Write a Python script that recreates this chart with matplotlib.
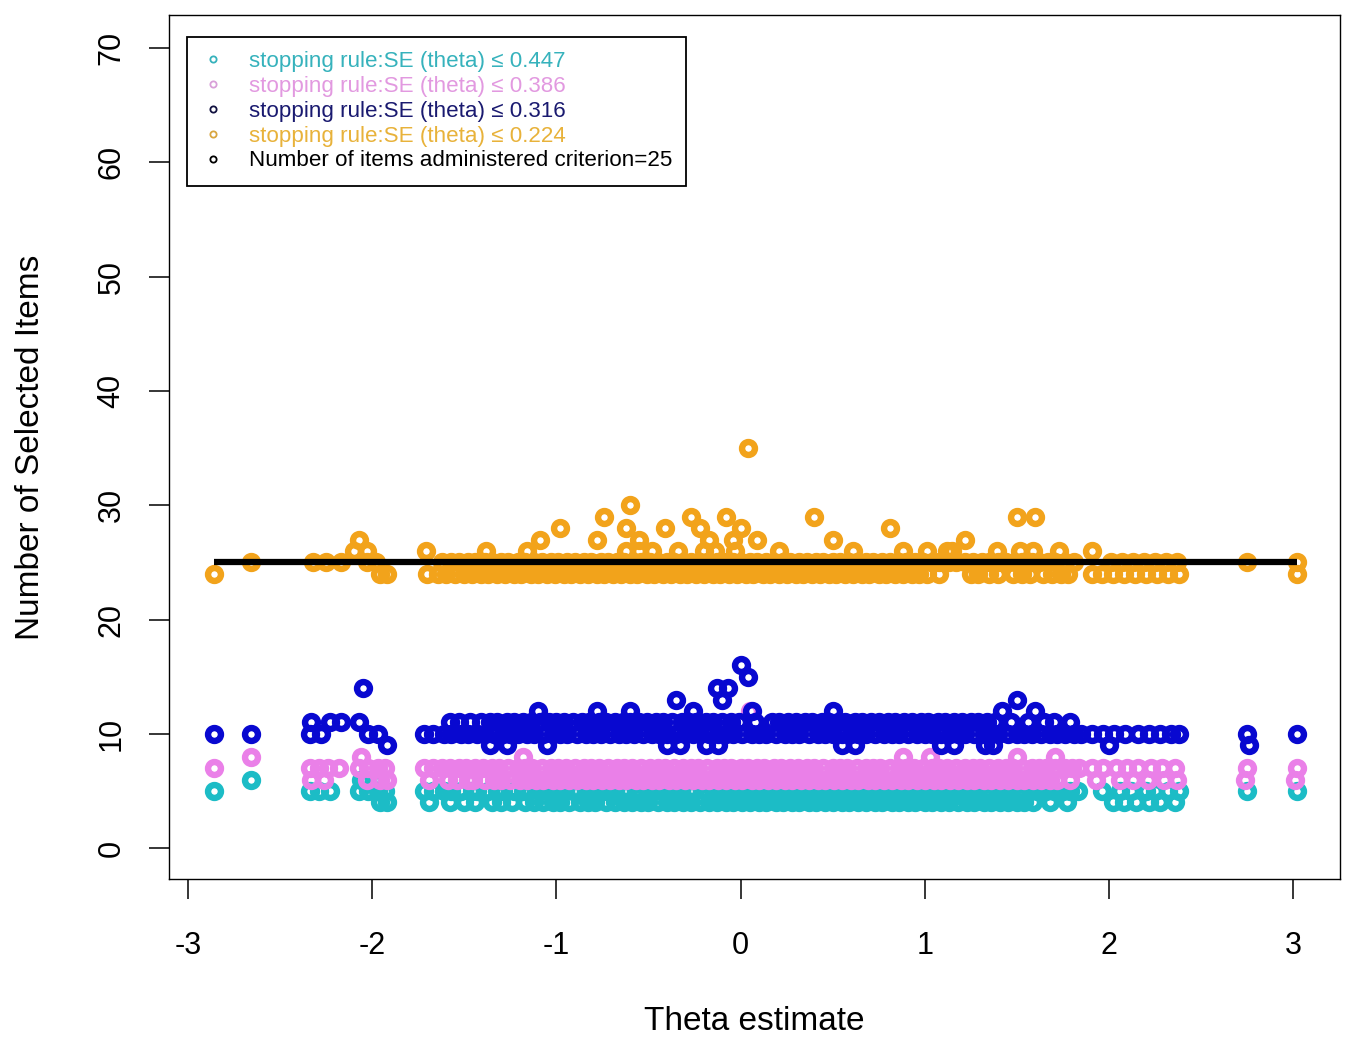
import matplotlib
matplotlib.use("Agg")
import matplotlib.pyplot as plt
from matplotlib.lines import Line2D

plt.rcParams['font.family'] = ['Liberation Sans', 'DejaVu Sans']
plt.rcParams['axes.unicode_minus'] = False

# theta estimates, grouped by the number of selected items
# SE(theta) <= 0.447
teal_x4 = [-1.96, -1.92, -1.69, -1.58, -1.50, -1.44, -1.35, -1.30, -1.24, -1.17, -1.12, -1.07,
           -1.02, -0.98, -0.93, -0.87, -0.83, -0.79, -0.73, -0.68, -0.63, -0.59, -0.54, -0.50,
           -0.45, -0.40, -0.36, -0.31, -0.27, -0.22, -0.17, -0.13, -0.08, -0.04, 0.01, 0.05,
           0.10, 0.14, 0.19, 0.23, 0.28, 0.32, 0.37, 0.41, 0.46, 0.50, 0.55, 0.59, 0.64, 0.68,
           0.73, 0.77, 0.82, 0.86, 0.91, 0.95, 1.00, 1.04, 1.09, 1.13, 1.18, 1.23, 1.27, 1.32,
           1.36, 1.41, 1.45, 1.50, 1.54, 1.59, 1.68, 1.77, 2.02, 2.08, 2.15, 2.22, 2.28, 2.36]
teal_x5 = [-2.86, -2.34, -2.29, -2.23, -2.07, -2.02, -1.97, -1.93, -1.72, -1.67,
           -1.61, -1.57, -1.52, -1.46, -1.43, -1.37, -1.32, -1.29, -1.23, -1.18, -1.15, -1.09,
           -1.05, -1.01, -0.96, -0.91, -0.88, -0.82, -0.78, -0.74, -0.69, -0.64, -0.61, -0.55,
           -0.51, -0.47, -0.42, -0.38, -0.33, -0.28, -0.25, -0.19, -0.15, -0.11, -0.06, -0.02,
           0.03, 0.07, 0.12, 0.16, 0.21, 0.25, 0.30, 0.34, 0.39, 0.43, 0.48, 0.53, 0.57, 0.61,
           0.66, 0.71, 0.75, 0.80, 0.84, 0.89, 0.93, 0.98, 1.02, 1.07, 1.11, 1.16, 1.21, 1.25,
           1.29, 1.34, 1.39, 1.43, 1.47, 1.52, 1.57, 1.61, 1.66, 1.70, 1.75, 1.79, 1.83,
           1.96, 2.06, 2.12, 2.20, 2.25, 2.32, 2.38, 2.75, 3.02]
teal_x6 = [-2.66, -2.06, -1.99, -1.16, 1.45]

# SE(theta) <= 0.386
pink_x6 = [-2.33, -2.26, -2.03, -1.96, -1.92, -1.69,
           -1.59, -1.54, -1.48, -1.45, -1.39, -1.34, -1.30, -1.25, -1.20, -1.16, -1.11, -1.07,
           -1.02, -0.98, -0.93, -0.89, -0.84, -0.80, -0.75, -0.71, -0.66, -0.62, -0.57, -0.53,
           -0.48, -0.44, -0.39, -0.35, -0.30, -0.26, -0.21, -0.17, -0.12, -0.08, -0.03, 0.01,
           0.06, 0.10, 0.15, 0.19, 0.24, 0.28, 0.33, 0.37, 0.42, 0.46, 0.51, 0.55, 0.60, 0.64,
           0.69, 0.73, 0.78, 0.82, 0.87, 0.91, 0.96, 1.00, 1.05, 1.09, 1.14, 1.18, 1.23, 1.27,
           1.32, 1.36, 1.41, 1.45, 1.50, 1.54, 1.59, 1.63, 1.68, 1.72, 1.79,
           1.93, 2.06, 2.13, 2.21, 2.30, 2.37, 2.74, 3.01]
pink_x7 = [-2.86, -2.34, -2.29, -2.24, -2.18, -2.07, -2.02, -1.97, -1.93, -1.72, -1.67,
           -1.62, -1.58, -1.53, -1.49, -1.44, -1.40, -1.35, -1.31, -1.26, -1.21, -1.17, -1.13,
           -1.08, -1.03, -0.99, -0.95, -0.90, -0.85, -0.81, -0.77, -0.72, -0.67, -0.63, -0.59,
           -0.54, -0.49, -0.45, -0.41, -0.36, -0.31, -0.27, -0.23, -0.18, -0.13, -0.09, -0.05,
           0.00, 0.04, 0.09, 0.13, 0.18, 0.22, 0.27, 0.31, 0.36, 0.40, 0.45, 0.50, 0.54, 0.58,
           0.63, 0.68, 0.72, 0.76, 0.81, 0.86, 0.90, 0.94, 0.99, 1.04, 1.08, 1.12, 1.17, 1.22,
           1.26, 1.30, 1.35, 1.40, 1.44, 1.48, 1.53, 1.58, 1.62, 1.66, 1.71, 1.76, 1.80, 1.84,
           1.91, 1.97, 2.04, 2.10, 2.16, 2.23, 2.29, 2.36, 2.75, 3.02]
pink_x8 = [-2.66, -2.06, -1.18, 0.88, 1.03, 1.50, 1.71]
pink_x12 = [0.05]

# SE(theta) <= 0.316
blue_x9 = [-1.92, -1.36, -1.27, -1.05, -0.40, -0.33, -0.19, -0.12, 0.55, 0.62,
           1.09, 1.16, 1.33, 1.37, 2.00, 2.76]
blue_x10 = [-2.86, -2.66, -2.34, -2.28, -2.02, -1.97, -1.72, -1.67,
            -1.61, -1.57, -1.52, -1.48, -1.43, -1.39, -1.34, -1.29, -1.25, -1.21, -1.16, -1.12,
            -1.07, -1.02, -0.98, -0.94, -0.89, -0.84, -0.80, -0.76, -0.71, -0.66, -0.62, -0.58,
            -0.53, -0.48, -0.44, -0.40, -0.35, -0.30, -0.26, -0.22, -0.17, -0.12, -0.08, -0.04,
            0.01, 0.06, 0.10, 0.14, 0.19, 0.24, 0.28, 0.32, 0.37, 0.42, 0.46, 0.50, 0.55, 0.60,
            0.64, 0.68, 0.73, 0.78, 0.82, 0.86, 0.91, 0.96, 1.00, 1.04, 1.09, 1.14, 1.18, 1.22,
            1.27, 1.32, 1.36, 1.40, 1.45, 1.50, 1.54, 1.58, 1.63, 1.68, 1.72, 1.76, 1.81, 1.85,
            1.91, 1.97, 2.03, 2.09, 2.16, 2.22, 2.28, 2.34, 2.38, 2.75, 3.02]
blue_x11 = [-2.33, -2.23, -2.17, -2.07,
            -1.58, -1.53, -1.47, -1.41, -1.36, -1.32, -1.27, -1.23, -1.18, -1.14, -1.09, -1.04,
            -1.00, -0.96, -0.91, -0.86, -0.82, -0.77, -0.73, -0.68, -0.64, -0.60, -0.55, -0.51,
            -0.46, -0.42, -0.37, -0.32, -0.28, -0.24, -0.19, -0.15, -0.10, -0.05, -0.01, 0.08,
            0.17, 0.21, 0.26, 0.30, 0.35, 0.39, 0.44, 0.48, 0.53, 0.57, 0.62, 0.66, 0.71, 0.75,
            0.80, 0.84, 0.89, 0.93, 0.98, 1.02, 1.07, 1.11, 1.16, 1.20, 1.25, 1.29, 1.34, 1.38,
            1.47, 1.56, 1.65, 1.70, 1.79]
blue_x12 = [-1.10, -0.78, -0.60, -0.26, 0.06, 0.50, 1.42, 1.60]
blue_x13 = [-0.35, -0.10, 1.50]
blue_x14 = [-2.05, -0.13, -0.07]
blue_x15 = [0.04]
blue_x16 = [0.00]

# SE(theta) <= 0.224
orange_x24 = [-2.86, -1.96, -1.92, -1.70, -1.64,
              -1.60, -1.55, -1.50, -1.46, -1.41, -1.37, -1.32, -1.28, -1.23, -1.19, -1.14,
              -1.10, -1.05, -1.01, -0.96, -0.92, -0.87, -0.83, -0.78, -0.74, -0.69, -0.65,
              -0.60, -0.56, -0.51, -0.47, -0.42, -0.38, -0.33, -0.29, -0.24, -0.20, -0.15,
              -0.11, -0.06, -0.02, 0.03, 0.07, 0.12, 0.16, 0.21, 0.25, 0.30, 0.34, 0.39, 0.43,
              0.48, 0.52, 0.57, 0.61, 0.66, 0.70, 0.75, 0.79, 0.84, 0.88, 0.93, 0.97, 1.01,
              1.08, 1.25, 1.29, 1.35, 1.40, 1.48, 1.53, 1.57, 1.64, 1.69, 1.74, 1.78,
              1.91, 1.96, 2.02, 2.08, 2.14, 2.20, 2.26, 2.32, 2.38, 3.02]
orange_x25 = [-2.66, -2.32, -2.25, -2.17, -2.03, -1.98,
              -1.62, -1.57, -1.53, -1.48, -1.44, -1.39, -1.35, -1.30, -1.26, -1.21, -1.17,
              -1.12, -1.08, -1.03, -0.99, -0.94, -0.90, -0.85, -0.81, -0.76, -0.72, -0.67,
              -0.63, -0.58, -0.54, -0.49, -0.45, -0.40, -0.36, -0.31, -0.27, -0.22, -0.18,
              -0.13, -0.09, -0.04, 0.00, 0.05, 0.09, 0.14, 0.18, 0.23, 0.27, 0.32, 0.36, 0.41,
              0.45, 0.50, 0.54, 0.59, 0.63, 0.68, 0.72, 0.77, 0.81, 0.86, 0.90, 0.95, 0.99,
              1.04, 1.08, 1.13, 1.17, 1.22, 1.26, 1.31, 1.35, 1.40, 1.44, 1.49, 1.53, 1.58,
              1.62, 1.67, 1.71, 1.76, 1.81,
              2.01, 2.07, 2.13, 2.19, 2.25, 2.31, 2.37, 2.75, 3.02]
orange_x26 = [-2.10, -2.03, -1.71, -1.38, -1.16, -0.62, -0.55, -0.48, -0.34, -0.20, -0.14,
              -0.03, 0.21, 0.61, 0.88, 1.01, 1.12, 1.15, 1.39, 1.52, 1.59, 1.73, 1.91]
orange_x27 = [-2.07, -1.09, -0.78, -0.55, -0.17, -0.04, 0.09, 0.50, 1.22]
orange_x28 = [-0.98, -0.62, -0.41, -0.22, 0.00, 0.81]
orange_x29 = [-0.74, -0.27, -0.08, 0.40, 1.50, 1.60]
orange_x30 = [-0.60]
orange_x35 = [0.04]

criterion_x = [-2.86, 3.02]
criterion_y = 25

series = [
    ('#1CBCC6', {4: teal_x4, 5: teal_x5, 6: teal_x6}),
    ('#EA80E8', {6: pink_x6, 7: pink_x7, 8: pink_x8, 12: pink_x12}),
    ('#0808D0', {9: blue_x9, 10: blue_x10, 11: blue_x11, 12: blue_x12,
                 13: blue_x13, 14: blue_x14, 15: blue_x15, 16: blue_x16}),
    ('#F2A31B', {24: orange_x24, 25: orange_x25, 26: orange_x26, 27: orange_x27,
                 28: orange_x28, 29: orange_x29, 30: orange_x30, 35: orange_x35}),
]

legend_labels = ['stopping rule:SE (theta) \u2264 0.447',
                 'stopping rule:SE (theta) \u2264 0.386',
                 'stopping rule:SE (theta) \u2264 0.316',
                 'stopping rule:SE (theta) \u2264 0.224',
                 'Number of items administered criterion=25']
legend_text_colors = ['#36B2BC', '#E299E0', '#1A1A70', '#E8B23A', '#000000']
legend_marker_colors = ['#36B2BC', '#D9A0D9', '#111140', '#D9A640', '#000000']

fig = plt.figure(figsize=(13.5, 10.56), dpi=100)
ax = fig.add_axes([0.1252, 0.1676, 0.8674, 0.8182])

for color, levels in series:
    for n_items, xs in levels.items():
        ax.plot(xs, [n_items] * len(xs), ls='none', marker='o', mfc='none',
                mec=color, ms=9.3, mew=4.6)

ax.plot(criterion_x, [criterion_y] * 2, color='black', lw=4.5, solid_capstyle='butt')

ax.set_xlim(-3.103, 3.255)
ax.set_ylim(-2.7, 72.9)
ax.set_xticks([-3, -2, -1, 0, 1, 2, 3])
ax.set_yticks([0, 10, 20, 30, 40, 50, 60, 70])

for sp in ax.spines.values():
    sp.set_linewidth(1.0)
ax.tick_params(axis='both', direction='out', length=14.5, width=1.1, labelsize=22)
ax.tick_params(axis='x', pad=23)
ax.tick_params(axis='y', pad=16, labelrotation=90)
for lab in ax.get_yticklabels():
    lab.set_va('center')

ax.set_xlabel('Theta estimate', fontsize=24)
ax.xaxis.set_label_coords(0.5, -0.147)
ax.set_ylabel('Number of Selected Items', fontsize=24)
ax.yaxis.set_label_coords(-0.105, 0.5)

handles = [Line2D([], [], ls='none', marker='o', mfc='none', mec=c, ms=4.5, mew=1.3)
           for c in legend_marker_colors]
leg = ax.legend(handles, legend_labels, loc='upper left', bbox_to_anchor=(0.0154, 0.975),
                borderaxespad=0, fancybox=False, edgecolor='black', framealpha=1,
                prop={'size': 16.1}, handlelength=1.0, handletextpad=1.1, borderpad=0.65,
                labelspacing=0.17, labelcolor=legend_text_colors)
leg.get_frame().set_linewidth(1.3)

fig.savefig('out.png', dpi=100)
